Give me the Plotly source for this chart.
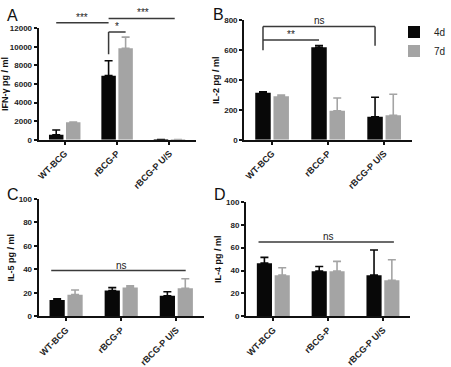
import plotly.graph_objects as go

categories = ["WT-BCG", "rBCG-P", "rBCG-P U/S"]
series_names = ["4d", "7d"]

ifng_4d = [550, 6900, 20]
ifng_4d_err = [500, 1600, 0]
ifng_7d = [1900, 9850, 20]
ifng_7d_err = [0, 1200, 0]

il2_4d = [315, 620, 155]
il2_4d_err = [7, 12, 130]
il2_7d = [292, 195, 165]
il2_7d_err = [8, 85, 140]

il5_4d = [14, 22, 17.5]
il5_4d_err = [1, 2.5, 3.5]
il5_7d = [18.5, 24.5, 24]
il5_7d_err = [4, 1.5, 8]

il4_4d = [46.5, 39.5, 36]
il4_4d_err = [5, 4, 22]
il4_7d = [36, 39.5, 31.5]
il4_7d_err = [6.5, 8.5, 18]

y_titles = ["IFN-γ pg / ml", "IL-2 pg / ml", "IL-5 pg / ml", "IL-4 pg / ml"]
y_ranges = [[0, 12000], [0, 800], [0, 100], [0, 100]]
y_dticks = [2000, 200, 20, 20]
panel_letters = ["A", "B", "C", "D"]

BLACK = "#080808"
GRAY = "#a4a4a4"
LINE = "#3a3a3a"
FONT = "Liberation Sans"

W, H = 451, 367
doms = [
    ([40 / W, 212 / W], [1 - 140 / H, 1 - 25 / H]),
    ([265 / W, 449 / W], [1 - 140 / H, 1 - 17 / H]),
    ([40 / W, 221 / W], [1 - 322 / H, 1 - 201 / H]),
    ([267 / W, 447 / W], [1 - 322 / H, 1 - 204 / H]),
]

data = [
    (ifng_4d, ifng_4d_err, ifng_7d, ifng_7d_err),
    (il2_4d, il2_4d_err, il2_7d, il2_7d_err),
    (il5_4d, il5_4d_err, il5_7d, il5_7d_err),
    (il4_4d, il4_4d_err, il4_7d, il4_7d_err),
]

fig = go.Figure()
for i, (v4, e4, v7, e7) in enumerate(data):
    ax = "" if i == 0 else str(i + 1)
    for name, vals, errs, col in [(series_names[0], v4, e4, BLACK), (series_names[1], v7, e7, GRAY)]:
        fig.add_trace(go.Bar(
            x=categories, y=vals, name=name,
            marker=dict(color=col, line=dict(width=0)),
            error_y=dict(type="data", array=errs, arrayminus=[0] * len(errs), symmetric=False,
                         color=col, thickness=1.6, width=4),
            xaxis="x" + ax, yaxis="y" + ax,
            showlegend=(i == 1),
        ))

layout = dict(
    width=W, height=H, margin=dict(l=0, r=0, t=0, b=0),
    paper_bgcolor="white", plot_bgcolor="white",
    barmode="group", bargap=0.35, bargroupgap=0.15,
    font=dict(family=FONT, color="#111"),
    legend=dict(x=0.952, y=0.962, xanchor="left", yanchor="top",
                font=dict(size=10, family=FONT, color="#222"),
                itemwidth=30, tracegroupgap=0, bgcolor="rgba(0,0,0,0)"),
)
for i in range(4):
    ax = "" if i == 0 else str(i + 1)
    xd, yd = doms[i]
    layout["xaxis" + ax] = dict(
        domain=xd, anchor="y" + ax, showline=True, linecolor="#111", linewidth=1.8,
        ticks="outside", ticklen=3, tickwidth=1.5, tickcolor="#111",
        tickangle=-45, tickfont=dict(size=9, family=FONT, color="#222", weight="bold"),
        showgrid=False, zeroline=False, fixedrange=True,
    )
    layout["yaxis" + ax] = dict(
        domain=yd, anchor="x" + ax, range=y_ranges[i], dtick=y_dticks[i],
        tickformat="d", separatethousands=False, exponentformat="none",
        showline=True, linecolor="#111", linewidth=1.8,
        ticks="outside", ticklen=3, tickwidth=1.5, tickcolor="#111",
        tickfont=dict(size=8, family=FONT, color="#222", weight="bold"),
        title=dict(text=y_titles[i], font=dict(size=9, family=FONT, color="#111", weight="bold"), standoff=3),
        showgrid=False, zeroline=False, fixedrange=True,
    )
fig.update_layout(**layout)

OFF = 0.1625  # bar-centre offset inside a group (from bargap/bargroupgap)


def ypaper(i, v):
    lo, hi = y_ranges[i]
    d0, d1 = doms[i][1]
    return d0 + (v - lo) / (hi - lo) * (d1 - d0)


shapes = []
annots = []


def seg(i, x0, y0, x1, y1, paper_y=False):
    ax = "" if i == 0 else str(i + 1)
    if paper_y:
        shapes.append(dict(type="line", xref="x" + ax, yref="paper", x0=x0, x1=x1,
                           y0=ypaper(i, y0), y1=ypaper(i, y1), line=dict(color=LINE, width=1.5)))
    else:
        shapes.append(dict(type="line", xref="x" + ax, yref="y" + ax, x0=x0, x1=x1,
                           y0=y0, y1=y1, line=dict(color=LINE, width=1.5)))


def label(i, x, y, text, paper_y=False):
    ax = "" if i == 0 else str(i + 1)
    annots.append(dict(xref="x" + ax, yref="paper" if paper_y else "y" + ax, x=x,
                       y=ypaper(i, y) if paper_y else y, text=text, showarrow=False,
                       yanchor="bottom", yshift=-2, font=dict(size=10, family=FONT, color="#222")))


# Panel A significance marks
seg(0, 0 - OFF, 12600, 1 - OFF, 12600, paper_y=True)
label(0, 0.5 - OFF, 12600, "***", paper_y=True)
seg(0, 1 - OFF, 13050, 2.1, 13050, paper_y=True)
label(0, 1.5, 13050, "***", paper_y=True)
seg(0, 1 - OFF, 9200, 1 - OFF, 11600)
seg(0, 1 - OFF, 11600, 1 + OFF, 11600)
label(0, 1.0, 11600, "*")

# Panel B
seg(1, 0 - OFF, 600, 0 - OFF, 760)
seg(1, 0 - OFF, 760, 2 - OFF, 760)
seg(1, 2 - OFF, 760, 2 - OFF, 630)
label(1, 1 - OFF, 760, "ns")
seg(1, 0 - OFF, 670, 1 - OFF, 670)
label(1, 0.5 - OFF, 670, "**")

# Panel C
seg(2, -0.27, 39, 2.17, 39)
label(2, 1.0, 39, "ns")

# Panel D
seg(3, -0.27, 65, 2.2, 65)
label(3, 1.0, 65, "ns")

for letter, (px, py) in zip(panel_letters, [(3, 1), (229, 0), (3, 186), (230, 186)]):
    annots.append(dict(xref="paper", yref="paper", x=px / W, y=1 - py / H, text=letter,
                       showarrow=False, xanchor="left", yanchor="top",
                       font=dict(size=16, family=FONT, color="#111")))

fig.update_layout(shapes=shapes, annotations=annots)
fig.write_html("out.html")
